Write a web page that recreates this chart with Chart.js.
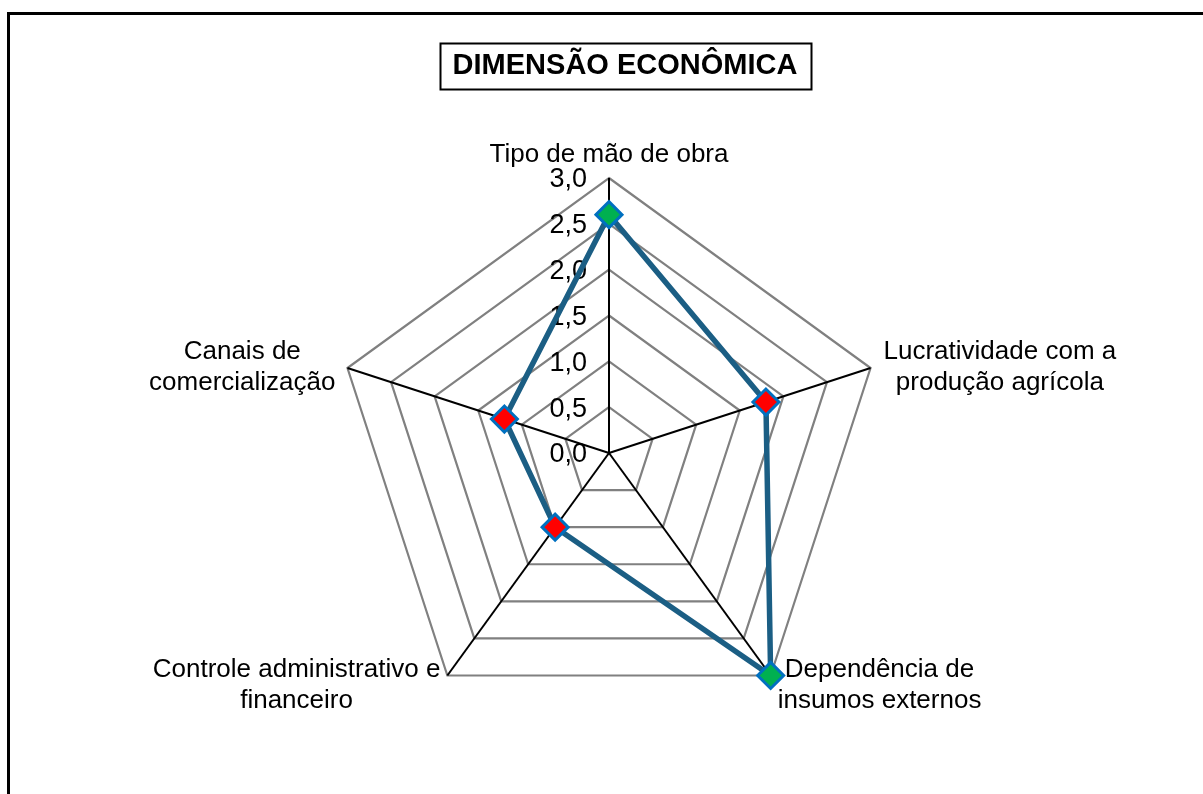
<!DOCTYPE html>
<html>
<head>
<meta charset="utf-8">
<script src="https://cdn.jsdelivr.net/npm/chart.js@4.4.1/dist/chart.umd.min.js"></script>
<style>
  html, body { margin: 0; padding: 0; background: #fff; }
  #wrap { position: relative; width: 1203px; height: 794px; overflow: hidden; }
  #frame { position: absolute; left: 7px; top: 12px; width: 1300px; height: 900px;
           border-left: 3px solid #000; border-top: 3px solid #000; }
  canvas { position: absolute; left: 0; top: 0; }
</style>
</head>
<body>
<div id="wrap">
  <div id="frame"></div>
  <canvas id="c" width="1203" height="794"></canvas>
</div>
<script>
const chartTitle = "DIMENSÃO ECONÔMICA";
const categories = [
  ["Tipo de mão de obra"],
  ["Lucratividade com a", "produção agrícola"],
  ["Dependência de", "insumos externos"],
  ["Controle administrativo e", "financeiro"],
  ["Canais de", "comercialização"]
];
const values = [2.6, 1.8, 3.0, 1.0, 1.2];
const markerColors = ["#00B050", "#FF0000", "#00B050", "#FF0000", "#FF0000"];
const tickValues = [0, 0.5, 1.0, 1.5, 2.0, 2.5, 3.0];
const tickLabels = ["0,0", "0,5", "1,0", "1,5", "2,0", "2,5", "3,0"];

const FONT = '"Liberation Sans", Arial, sans-serif';

const labelStyle = [
  { side: "top", dx: 0, dy: -23 },
  { side: "right", dx: 13, dy: -1 },
  { side: "right", dx: 7, dy: 10 },
  { side: "left", dx: -7, dy: 10 },
  { side: "left", dx: -12, dy: -1 }
];

const ticksPlugin = {
  id: "tickText",
  beforeDatasetsDraw(chart) {
    const s = chart.scales.r;
    const ctx = chart.ctx;
    ctx.save();
    ctx.font = "27px " + FONT;
    ctx.fillStyle = "#000";
    ctx.textAlign = "right";
    ctx.textBaseline = "middle";
    tickValues.forEach((v, i) => {
      const y = s.yCenter - s.getDistanceFromCenterForValue(v);
      ctx.fillText(tickLabels[i], s.xCenter - 22, y + 2);
    });
    ctx.restore();
  }
};

const labelsPlugin = {
  id: "catLabels",
  afterDraw(chart) {
    const s = chart.scales.r;
    const ctx = chart.ctx;
    ctx.save();
    ctx.font = "26px " + FONT;
    ctx.fillStyle = "#000";
    ctx.textAlign = "center";
    ctx.textBaseline = "middle";
    const lh = 31;
    categories.forEach((lines, i) => {
      const p = s.getPointPosition(i, s.drawingArea);
      const st = labelStyle[i];
      const w = Math.max(...lines.map(l => ctx.measureText(l).width));
      let cx = p.x + st.dx;
      if (st.side === "right") cx += w / 2;
      if (st.side === "left") cx -= w / 2;
      const cy = p.y + st.dy;
      const y0 = cy - (lines.length - 1) * lh / 2;
      lines.forEach((l, k) => ctx.fillText(l, cx, y0 + k * lh));
    });

    ctx.font = "bold 29px " + FONT;
    const tw = ctx.measureText(chartTitle).width;
    const tx = 625, ty = 66;
    ctx.fillText(chartTitle, tx, ty);
    ctx.lineWidth = 2;
    ctx.strokeStyle = "#000";
    ctx.strokeRect(Math.round(tx - tw / 2 - 13) + 0.5, 43.5, Math.round(tw + 26), 46);
    ctx.restore();
  }
};

new Chart(document.getElementById("c"), {
  type: "radar",
  data: {
    labels: categories,
    datasets: [{
      data: values,
      borderColor: "#1b5e84",
      borderWidth: 5.5,
      fill: false,
      tension: 0,
      pointStyle: "rectRot",
      pointRadius: 13,
      pointHoverRadius: 13,
      pointBackgroundColor: markerColors,
      pointBorderColor: "#0070C0",
      pointBorderWidth: 3
    }]
  },
  options: {
    responsive: false,
    animation: false,
    events: [],
    layout: { padding: { top: 178, bottom: 66, left: 200, right: 185 } },
    plugins: { legend: { display: false }, tooltip: { enabled: false }, title: { display: false } },
    scales: {
      r: {
        min: 0,
        max: 3,
        ticks: { display: false, stepSize: 0.5 },
        grid: { color: "#808080", lineWidth: 2.2 },
        angleLines: { color: "#000", lineWidth: 2 },
        pointLabels: { display: false }
      }
    }
  },
  plugins: [ticksPlugin, labelsPlugin]
});
</script>
</body>
</html>
